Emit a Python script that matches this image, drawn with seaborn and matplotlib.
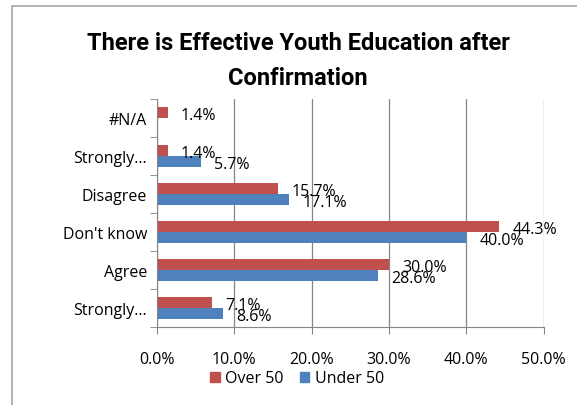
import numpy as np
import pandas as pd
import seaborn as sns
import matplotlib.pyplot as plt
from matplotlib.patches import Rectangle

categories = ["#N/A", "Strongly...", "Disagree", "Don't know", "Agree", "Strongly..."]
over_50 = [1.4, 1.4, 15.7, 44.3, 30.0, 7.1]
under_50 = [np.nan, 5.7, 17.1, 40.0, 28.6, 8.6]
series = ["Over 50", "Under 50"]
colors = ["#C0504D", "#4F81BD"]

# long form table, position index keeps the two "Strongly..." rows apart
rows = []
for i, cat in enumerate(categories):
    rows.append({"pos": str(i), "group": series[0], "value": over_50[i]})
    rows.append({"pos": str(i), "group": series[1], "value": under_50[i]})
df = pd.DataFrame(rows)

sns.set_style("white")
plt.rcParams["font.family"] = ["Open Sans", "DejaVu Sans"]
plt.rcParams["text.color"] = "black"
plt.rcParams["xtick.color"] = "black"
plt.rcParams["ytick.color"] = "black"

fig = plt.figure(figsize=(5.77, 4.06), dpi=100)
ax = fig.add_axes([0.272, 0.192, 0.670, 0.562])

sns.barplot(data=df, y="pos", x="value", hue="group", orient="h",
            palette=colors, width=0.58, ax=ax, legend=False,
            edgecolor="none", linewidth=0, saturation=1)

ax.set_xlim(0, 50)
ax.set_xticks(np.arange(0, 51, 10))
ax.set_xticklabels([f"{v:.1f}%" for v in np.arange(0, 51, 10)], fontsize=11.5)
ax.set_yticks(range(len(categories)))
ax.set_yticklabels(categories, fontsize=11.5)
ax.set_ylim(len(categories) - 0.5, -0.5)
ax.set_xlabel("")
ax.set_ylabel("")
ax.grid(axis="x", color="#868686", linewidth=0.9)
ax.set_axisbelow(True)
for s in ["top", "right"]:
    ax.spines[s].set_visible(False)
for s in ["left", "bottom"]:
    ax.spines[s].set_color("#868686")
ax.tick_params(axis="y", which="major", left=False, length=0, pad=7)
ax.tick_params(axis="x", which="major", bottom=True, length=5, color="#868686",
               pad=12, direction="out")
# category separators as tick marks on the left
ax.set_yticks(np.arange(-0.5, len(categories), 1), minor=True)
ax.tick_params(axis="y", which="minor", left=True, length=5, color="#868686",
               direction="out")

for cont in ax.containers:
    for bar in cont:
        w = bar.get_width()
        if np.isnan(w) or w == 0:
            continue
        ax.annotate(f"{w:.1f}%", (w, bar.get_y() + bar.get_height() / 2),
                    xytext=(9.5, -2), textcoords="offset points",
                    va="center", ha="left", fontsize=11.5)

handles = [Rectangle((0, 0), 1, 1, color=c) for c in colors]
fig.legend(handles, series, loc="center", bbox_to_anchor=(0.515, 0.066), ncol=2,
           frameon=False, fontsize=11.5, handlelength=0.6, handleheight=0.6,
           handletextpad=0.35, columnspacing=1.0)

title_font = ["Roboto", "DejaVu Sans"]
fig.text(0.517, 0.892, "There is Effective Youth Education after", ha="center", va="center",
         fontsize=17, fontweight="bold", family=title_font)
fig.text(0.517, 0.806, "Confirmation", ha="center", va="center",
         fontsize=17, fontweight="bold", family=title_font)

fig.patches.append(Rectangle((12 / 577, -0.1), 1.2, 1 - 7 / 406 + 0.1, transform=fig.transFigure,
                             fill=False, edgecolor="#A6A6A6", linewidth=1.2))

fig.savefig("out.png", dpi=100)
